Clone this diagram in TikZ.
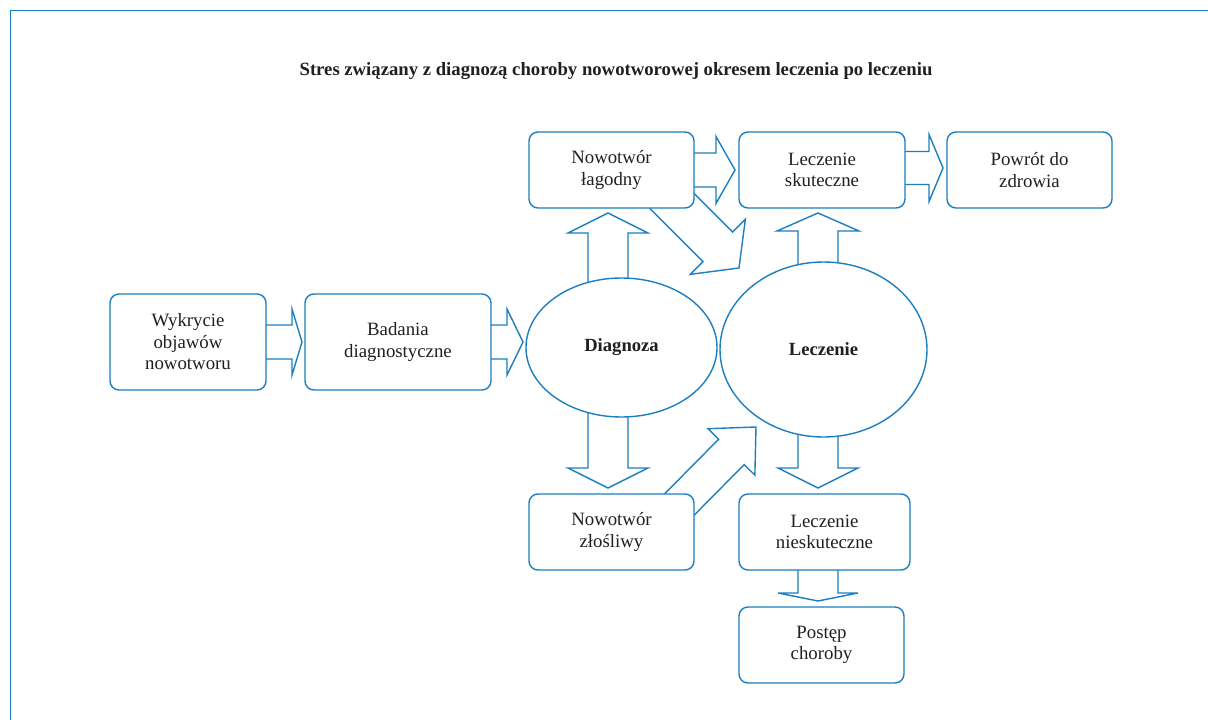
\documentclass[tikz,border=0pt]{standalone}
\usepackage{fontspec}
\setmainfont{Liberation Serif}
\usetikzlibrary{calc,backgrounds,shapes.geometric}
\definecolor{lineblue}{RGB}{27,127,193}
\definecolor{textgray}{RGB}{35,31,32}
\tikzset{
  box/.style={draw=lineblue, line width=1.4pt, rounded corners=9pt, fill=white, align=center,
    text=textgray, font=\fontsize{18.8}{21.5}\selectfont, minimum height=76pt},
  oval/.style={draw=lineblue, line width=1.4pt, ellipse, fill=white, inner sep=0pt,
    text=textgray, font=\bfseries\fontsize{18.6}{21}\selectfont},
  blockline/.style={draw=lineblue, line width=1.4pt, fill=white, line join=miter},
}
% block arrow: start, tip, shaft half width, head half width, head length
\newcommand{\blockarrow}[5]{%
  \coordinate (hb) at ($(#2)!#5!(#1)$);
  \draw[blockline] ($(#1)!#3!90:(#2)$) -- ($(hb)!#3!90:(#2)$) -- ($(hb)!#4!90:(#2)$) -- (#2)
    -- ($(hb)!#4!-90:(#2)$) -- ($(hb)!#3!-90:(#2)$) -- ($(#1)!#3!-90:(#2)$) -- cycle;
}
\begin{document}
\begin{tikzpicture}[x=1pt,y=-1pt]
\useasboundingbox (0,0) rectangle (1208,720);
\draw[lineblue, line width=1.6pt] (10.5,720) -- (10.5,10.5) -- (1208,10.5);
\node[text=textgray, font=\bfseries\fontsize{18.7}{22}\selectfont] (title) at (616,71)
  {Stres związany z diagnozą choroby nowotworowej okresem leczenia po leczeniu};
\node[box, minimum width=156pt, minimum height=96pt] (wyk) at (188,342) {Wykrycie\\objawów\\nowotworu};
\node[box, minimum width=186pt, minimum height=96pt] (bad) at (398,342) {Badania\\diagnostyczne};
\node[oval, minimum width=191pt, minimum height=139pt] (diag) at (621.5,347.5) {Diagnoza};
\node[oval, minimum width=207pt, minimum height=175pt] (lecz) at (823.5,349.5) {Leczenie};
\node[box, minimum width=165pt] (lag) at (611.5,170) {Nowotwór\\łagodny};
\node[box, minimum width=166pt] (skut) at (822,170) {Leczenie\\skuteczne};
\node[box, minimum width=165pt] (zdr) at (1029.5,170) {Powrót do\\zdrowia};
\node[box, minimum width=165pt] (zlo) at (611.5,532) {Nowotwór\\złośliwy};
\node[box, minimum width=171pt] (nie) at (824.5,532) {Leczenie\\nieskuteczne};
\node[box, minimum width=165pt] (post) at (821.5,645) {Postęp\\choroby};
% arrow tips
\coordinate (t1) at (302,342);
\coordinate (t2) at (523,342);
\coordinate (t3) at (735,170);
\coordinate (t4) at (943,168);
\coordinate (t5) at (608,213);
\coordinate (t6) at (608,488);
\coordinate (t7) at (818,213);
\coordinate (t8) at (818,488);
\coordinate (t9) at (818,601);
\coordinate (d1) at (660,189);
\coordinate (t10) at (739,268);
\coordinate (d2) at (670,514);
\coordinate (t11) at (756,427);
\begin{pgfonlayer}{background}
\blockarrow{wyk}{t1}{17pt}{33pt}{10pt}
\blockarrow{bad}{t2}{17pt}{33pt}{16pt}
\blockarrow{lag}{t3}{17pt}{33.5pt}{19pt}
\blockarrow{t4 -| skut}{t4}{16.5pt}{33.5pt}{14pt}
\blockarrow{t5 |- diag}{t5}{20pt}{40pt}{20pt}
\blockarrow{t6 |- diag}{t6}{20pt}{40pt}{20pt}
\blockarrow{t7 |- lecz}{t7}{20pt}{41pt}{18pt}
\blockarrow{t8 |- lecz}{t8}{20pt}{40pt}{20pt}
\blockarrow{t9 |- nie}{t9}{20pt}{40pt}{8pt}
\blockarrow{d1}{t10}{21pt}{39pt}{30pt}
\blockarrow{d2}{t11}{18pt}{33pt}{35pt}
\end{pgfonlayer}
\end{tikzpicture}
\end{document}
